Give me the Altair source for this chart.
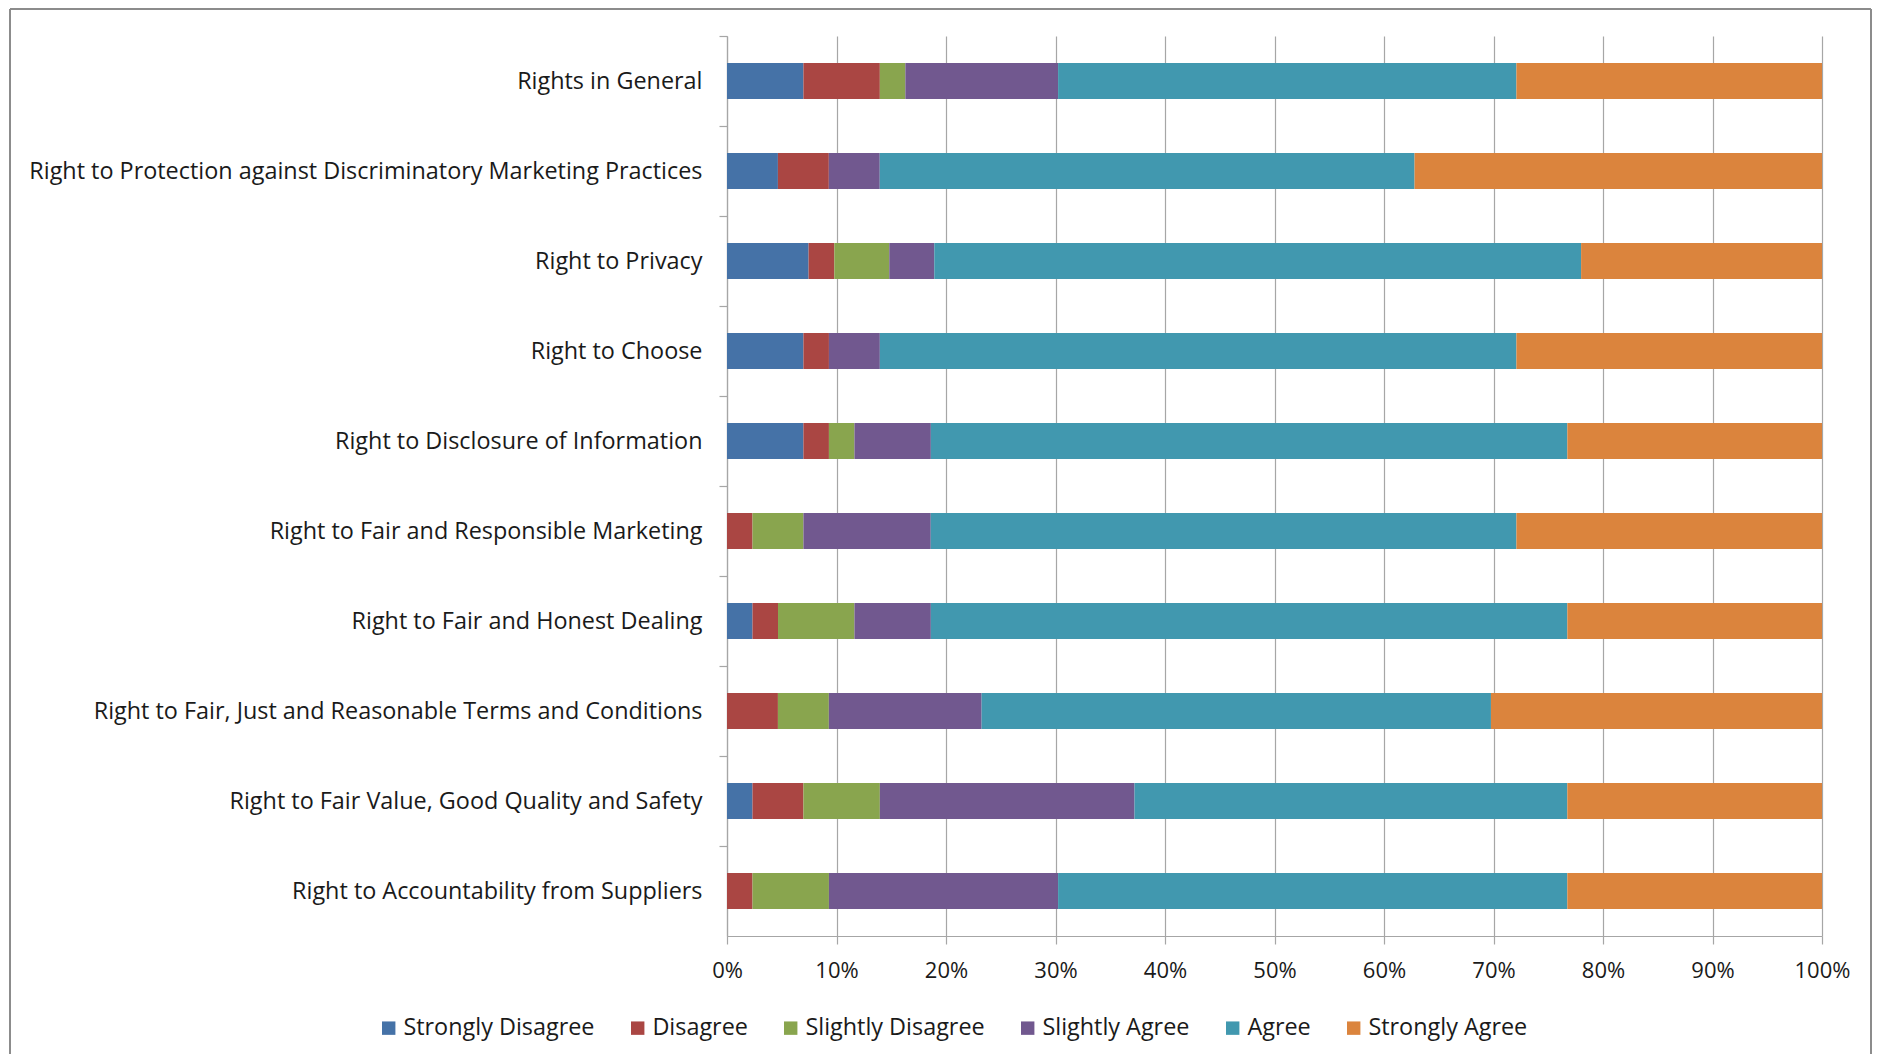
import altair as alt
import pandas as pd

categories = [
    "Rights in General",
    "Right to Protection against Discriminatory Marketing Practices",
    "Right to Privacy",
    "Right to Choose",
    "Right to Disclosure of Information",
    "Right to Fair and Responsible Marketing",
    "Right to Fair and Honest Dealing",
    "Right to Fair, Just and Reasonable Terms and Conditions",
    "Right to Fair Value, Good Quality and Safety",
    "Right to Accountability from Suppliers",
]
responses = ["Strongly Disagree", "Disagree", "Slightly Disagree",
             "Slightly Agree", "Agree", "Strongly Agree"]
colors = ["#4572A7", "#AA4643", "#89A54E", "#71588F", "#4198AF", "#DB843D"]

strongly_disagree = [6.98, 4.65, 7.45, 6.98, 6.98, 0.0, 2.33, 0.0, 2.33, 0.0]
disagree = [6.98, 4.65, 2.35, 2.33, 2.33, 2.33, 2.33, 4.65, 4.65, 2.33]
slightly_disagree = [2.33, 0.0, 5.02, 0.0, 2.33, 4.65, 6.98, 4.65, 6.98, 6.98]
slightly_agree = [13.95, 4.65, 4.11, 4.65, 6.98, 11.63, 6.98, 13.95, 23.26, 20.93]
agree = [41.86, 48.84, 59.07, 58.14, 58.14, 53.49, 58.14, 46.51, 39.53, 46.51]
strongly_agree = [27.91, 37.21, 22.0, 27.91, 23.26, 27.91, 23.26, 30.23, 23.26, 23.26]

x_ticks = [0, 0.1, 0.2, 0.3, 0.4, 0.5, 0.6, 0.7, 0.8, 0.9, 1.0]

series = [strongly_disagree, disagree, slightly_disagree,
          slightly_agree, agree, strongly_agree]
rows = []
for k, (resp, vals) in enumerate(zip(responses, series)):
    for cat, v in zip(categories, vals):
        rows.append({"category": cat, "response": resp, "value": v, "idx": k})
df = pd.DataFrame(rows)

FONT = "Open Sans"
FS_X = 22
FS = 23.4
TXT = "#1A1A1A"
GRID = "#A6A6A6"

bars = alt.Chart(df).mark_bar().encode(
    x=alt.X(
        "value:Q",
        stack="normalize",
        scale=alt.Scale(domain=[0, 1], nice=False),
        axis=alt.Axis(
            title=None, format=".0%", values=x_ticks, grid=True,
            gridColor=GRID, gridWidth=1.2, domainColor=GRID, domainWidth=1.2,
            tickColor=GRID, tickWidth=1.2, tickSize=8, labelFlush=False,
            labelFontSize=FS_X, labelPadding=16, labelColor=TXT,
            labelFont=FONT,
        ),
    ),
    y=alt.Y(
        "category:N",
        sort=categories,
        scale=alt.Scale(paddingInner=0.6, paddingOuter=0.3),
        axis=alt.Axis(
            title=None, grid=False, domainColor=GRID, domainWidth=1.2,
            tickColor=GRID, tickWidth=1.2, tickSize=8, tickOffset=-45,
            labelOffset=45, labelFontSize=FS, labelPadding=17,
            labelLimit=900, labelColor=TXT, labelFont=FONT,
        ),
    ),
    color=alt.Color(
        "response:N",
        sort=responses,
        scale=alt.Scale(domain=responses, range=colors),
        legend=alt.Legend(
            title=None, orient="none", legendX=-350, legendY=980,
            direction="horizontal", columns=6, symbolType="square",
            symbolSize=180, symbolStrokeWidth=0, labelFontSize=FS,
            labelFont=FONT, labelColor=TXT, labelOffset=3,
            columnPadding=31, labelLimit=400,
        ),
    ),
    order=alt.Order("idx:Q"),
)

frame_df = pd.DataFrame({"a": [0]})
FRAME = "#8C8C8C"
frame_left = alt.Chart(frame_df).mark_rule(color=FRAME, strokeWidth=2).encode(
    x=alt.value(-717), y=alt.value(-27), y2=alt.value(1100)
)
frame_right = alt.Chart(frame_df).mark_rule(color=FRAME, strokeWidth=2).encode(
    x=alt.value(1144), y=alt.value(-27), y2=alt.value(1100)
)
frame_top = alt.Chart(frame_df).mark_rule(color=FRAME, strokeWidth=2).encode(
    x=alt.value(-717), x2=alt.value(1144), y=alt.value(-27)
)

chart = alt.layer(bars, frame_left, frame_right, frame_top).properties(
    width=1095,
    height=900,
    autosize=alt.AutoSizeParams(type="none"),
    padding={"left": 719, "top": 28, "right": 52, "bottom": 118},
    background="white",
).configure_view(stroke=None)

chart.save("out.html", embed_options={"renderer": "svg", "actions": False})
